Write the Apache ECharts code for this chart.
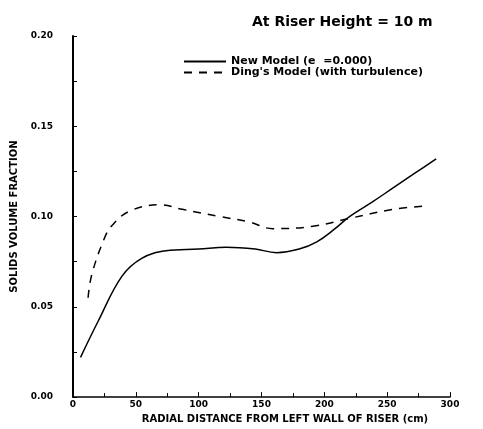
<!DOCTYPE html>
<html>
<head>
<meta charset="utf-8">
<script src="https://cdn.jsdelivr.net/npm/echarts@6/dist/echarts.min.js"></script>
<style>
    html, body { margin: 0; padding: 0; background: #fff; }
    #chart { width: 483px; height: 429px; }
</style>
</head>
<body>
<div id="chart"></div>
<script>
    // values
    const newModelX = [6, 20, 39, 55, 74, 100, 122, 145, 162, 180, 194, 208, 220, 238, 255, 272, 289]
    const newModelY = [0.022, 0.042, 0.067, 0.077, 0.081, 0.082, 0.083, 0.082, 0.080, 0.082, 0.086, 0.093, 0.100, 0.108, 0.116, 0.124, 0.132]
    const dingX = [12, 15, 25, 31, 45, 69, 87, 117, 140, 159, 191, 220, 255, 283]
    const dingY = [0.055, 0.068, 0.088, 0.095, 0.103, 0.1065, 0.104, 0.100, 0.097, 0.0933, 0.0946, 0.099, 0.104, 0.106]
    const seriesNames = ['New Model (e  =0.000)', "Ding's Model (with turbulence)"]

    const font = 'DejaVu Sans'
    const chart = echarts.init(document.getElementById('chart'))

    const pairs = (xs, ys) => xs.map((x, i) => [x, ys[i]])

    chart.setOption({
        animation: false,
        backgroundColor: '#fff',
        title: {
            text: 'At Riser Height = 10 m',
            left: 247, top: 10,
            textStyle: {fontFamily: font, fontSize: 14, fontWeight: 'bold', color: '#000'}
        },
        legend: {
            orient: 'vertical',
            left: 178, top: 51,
            itemWidth: 42, itemHeight: 8, itemGap: 0,
            itemStyle: {opacity: 0},
            textStyle: {fontFamily: font, fontSize: 11, fontWeight: 'bold', color: '#000'},
            data: seriesNames
        },
        grid: {left: 73, right: 33, top: 36, bottom: 28},
        xAxis: {
            type: 'value',
            min: 0, max: 300, interval: 50,
            name: 'RADIAL DISTANCE FROM LEFT WALL OF RISER (cm)',
            nameLocation: 'middle', nameGap: 16,
            nameTextStyle: {fontFamily: font, fontSize: 10, fontWeight: 'bold', color: '#000', padding: [0, 0, 0, 47]},
            axisLine: {lineStyle: {color: '#000', width: 1.5}},
            axisTick: {inside: true, length: 5, lineStyle: {color: '#000'}},
            minorTick: {show: true, splitNumber: 2, length: 4, lineStyle: {color: '#000'}},
            axisLabel: {margin: 3, fontFamily: font, fontSize: 9, fontWeight: 'bold', color: '#000'},
            splitLine: {show: false}
        },
        yAxis: {
            type: 'value',
            min: 0, max: 0.2, interval: 0.05,
            name: 'SOLIDS VOLUME FRACTION',
            nameLocation: 'middle', nameGap: 42,
            nameTextStyle: {fontFamily: font, fontSize: 10, fontWeight: 'bold', color: '#000'},
            axisLine: {lineStyle: {color: '#000', width: 2}},
            axisTick: {inside: true, length: 4, lineStyle: {color: '#000'}},
            minorTick: {show: true, splitNumber: 2, length: 4, lineStyle: {color: '#000'}},
            axisLabel: {
                margin: 20, fontFamily: font, fontSize: 9, fontWeight: 'bold', color: '#000',
                formatter: v => v.toFixed(2)
            },
            splitLine: {show: false}
        },
        series: [
            {
                name: seriesNames[0],
                type: 'line',
                smooth: 0.4,
                symbol: 'none',
                lineStyle: {color: '#000', width: 1.5},
                itemStyle: {color: '#000'},
                data: pairs(newModelX, newModelY)
            },
            {
                name: seriesNames[1],
                type: 'line',
                smooth: 0.4,
                symbol: 'none',
                lineStyle: {color: '#000', width: 1.5, type: [8, 7]},
                itemStyle: {color: '#000'},
                data: pairs(dingX, dingY)
            }
        ]
    })
</script>
</body>
</html>
